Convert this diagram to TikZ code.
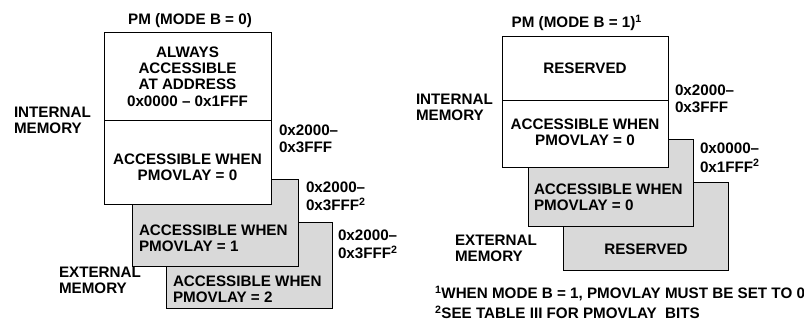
\documentclass[tikz,border=0pt]{standalone}
\usepackage{fontspec}
\setmainfont{Liberation Sans}
\definecolor{boxgray}{RGB}{217,217,217}
\newcommand\mlines[2]{\begin{tabular}[t]{@{}#1@{}}#2\end{tabular}}
\begin{document}
\begin{tikzpicture}[x=1pt,y=-1pt,
  txt/.style={inner sep=0pt, outer sep=0pt, font=\fontsize{15.2}{16.2}\selectfont\bfseries},
  membox/.style={draw=black, line width=1pt, fill=white},
  greybox/.style={draw=black, line width=1pt, fill=boxgray}]
\useasboundingbox (0,0) rectangle (804,324);
% ---------------- left: MODE B = 0
\path[greybox] (166,222) rectangle (332,308);
\path[greybox] (132,179) rectangle (298,266);
\path[membox] (104,32) rectangle (271,204);
\draw[line width=1pt] (104,120) -- (271,120);
\node[txt, anchor=base] (ltitle) at (190,24.5) {PM (MODE B = 0)};
\node[txt, anchor=base] (ltop) at (187.5,57.5) {\mlines{c}{ALWAYS\\ACCESSIBLE\\AT ADDRESS\\0x0000 -- 0x1FFF}};
\node[txt, anchor=base] (llow) at (187.5,164) {\mlines{c}{ACCESSIBLE WHEN\\PMOVLAY = 0}};
\node[txt, anchor=base west] (lint) at (14,117.5) {\mlines{l}{INTERNAL\\MEMORY}};
\node[txt, anchor=base west] (laddr1) at (279,135.5) {\mlines{l}{0x2000--\\[0.5pt]0x3FFF}};
\node[txt, anchor=base west] (laddr2) at (306,192) {\mlines{l}{0x2000--\\[1pt]0x3FFF\textsuperscript{2}}};
\node[txt, anchor=base west] (laddr3) at (338,240) {\mlines{l}{0x2000--\\[1pt]0x3FFF\textsuperscript{2}}};
\node[txt, anchor=base west] (lg1) at (139,235.5) {\mlines{l}{ACCESSIBLE WHEN\\PMOVLAY = 1}};
\node[txt, anchor=base west] (lg2) at (173,286) {\mlines{l}{ACCESSIBLE WHEN\\PMOVLAY = 2}};
\node[txt, anchor=base west] (lext) at (59,277.5) {\mlines{l}{EXTERNAL\\MEMORY}};
% ---------------- right: MODE B = 1
\path[greybox] (563,182) rectangle (728,270);
\path[greybox] (528,139) rectangle (693,226);
\path[membox] (502,36) rectangle (668,167);
\draw[line width=1pt] (502,100) -- (668,100);
\node[txt, anchor=base west] (rtitle) at (511.7,27.5) {PM (MODE B = 1)\textsuperscript{1}};
\node[txt, anchor=base] (rres) at (585,73.5) {RESERVED};
\node[txt, anchor=base] (rlow) at (585,129) {\mlines{c}{ACCESSIBLE WHEN\\PMOVLAY = 0}};
\node[txt, anchor=base west] (rint) at (416,104.7) {\mlines{l}{INTERNAL\\MEMORY}};
\node[txt, anchor=base west] (raddr1) at (675,95) {\mlines{l}{0x2000--\\[1pt]0x3FFF}};
\node[txt, anchor=base west] (raddr2) at (700,153.5) {\mlines{l}{0x0000--\\[1pt]0x1FFF\textsuperscript{2}}};
\node[txt, anchor=base west] (rg1) at (534,194.5) {\mlines{l}{ACCESSIBLE WHEN\\PMOVLAY = 0}};
\node[txt, anchor=base] (rg2) at (646,254.5) {RESERVED};
\node[txt, anchor=base west] (rext) at (455,245.5) {\mlines{l}{EXTERNAL\\MEMORY}};
\node[txt, anchor=base west] (fn1) at (435,298.5) {\textsuperscript{1}WHEN MODE B = 1, PMOVLAY MUST BE SET TO 0};
\node[txt, anchor=base west] (fn2) at (435,318.5) {\textsuperscript{2}SEE TABLE III FOR PMOVLAY\ \ BITS};
\end{tikzpicture}
\end{document}
